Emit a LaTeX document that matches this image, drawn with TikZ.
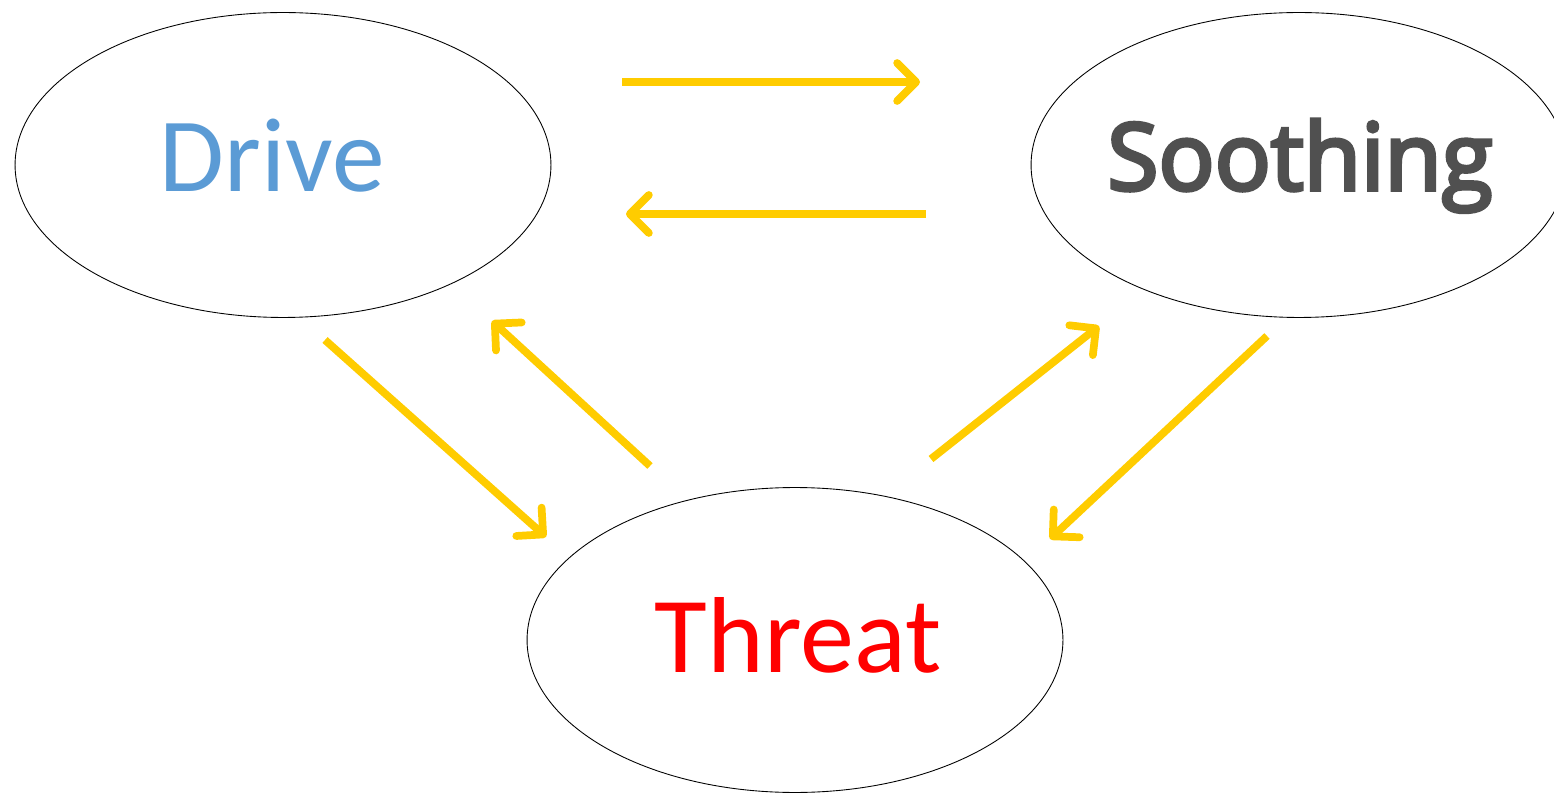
\documentclass[tikz,border=0pt]{standalone}
\usepackage{fontspec}
\setmainfont{Carlito}
\newfontfamily\soothfont{Open Sans}[FakeBold=4]
\usepackage{tikz}
\usetikzlibrary{shapes.geometric,arrows.meta}

\definecolor{arrowyellow}{HTML}{FFCC00}
\definecolor{driveblue}{HTML}{5B9BD5}
\definecolor{soothgray}{HTML}{505050}

\begin{document}
\begin{tikzpicture}[
    x=0.02cm, y=-0.02cm,
    system/.style={ellipse, draw=black, line width=0.5pt, minimum width=10.72cm, minimum height=6.1cm, inner sep=0pt},
    syslabel/.style={anchor=base, inner sep=0pt},
    flow/.style={draw=arrowyellow, line width=4.4pt, -{Straight Barb[round, length=0.38cm, width=0.76cm]}}
]
\useasboundingbox (0,0) rectangle (1554,793);
% Ellipses
\node[system] (drive) at (283,165) {};
\node[system] (soothing) at (1299,165) {};
\node[system] (threat) at (795,640) {};
% Names
\node[syslabel, font=\fontsize{60}{60}\selectfont, text=driveblue] (drivetext) at (272,192) {Drive};
\node[syslabel, font=\soothfont\fontsize{53}{53}\selectfont, text=soothgray] (soothingtext) at (1300,190) {Soothing};
\node[syslabel, font=\fontsize{61.5}{61.5}\selectfont, text=red] (threattext) at (798,672) {Threat};
% Arrow ends
\coordinate (ds1) at (622,82);
\coordinate (ds2) at (920,82);
\coordinate (sd1) at (926,214);
\coordinate (sd2) at (626,214);
\coordinate (dt1) at (325,340);
\coordinate (dt2) at (546,537);
\coordinate (td1) at (650,466);
\coordinate (td2) at (492,321);
\coordinate (ts1) at (931,459);
\coordinate (ts2) at (1099,326);
\coordinate (st1) at (1267,336);
\coordinate (st2) at (1050,539);
% Arrows
\draw[flow] (ds1) -- (ds2);
\draw[flow] (sd1) -- (sd2);
\draw[flow] (dt1) -- (dt2);
\draw[flow] (td1) -- (td2);
\draw[flow] (ts1) -- (ts2);
\draw[flow] (st1) -- (st2);
\end{tikzpicture}
\end{document}
